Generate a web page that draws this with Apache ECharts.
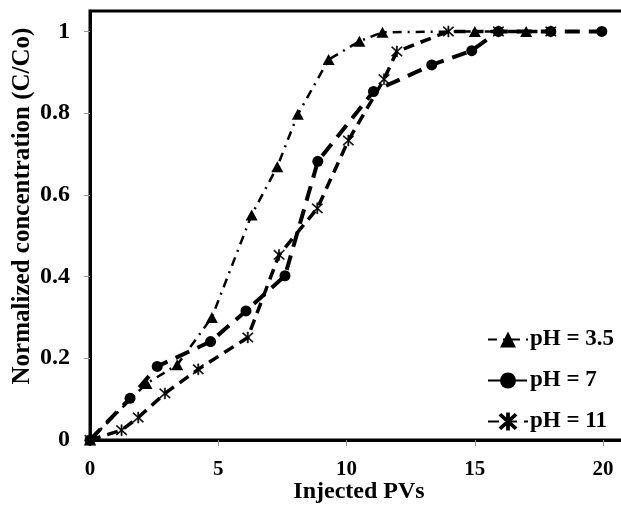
<!DOCTYPE html>
<html>
<head>
<meta charset="utf-8">
<script src="https://cdn.jsdelivr.net/npm/echarts@6/dist/echarts.min.js"></script>
<style>
html,body{margin:0;padding:0;background:#fff;}
#chart{width:621px;height:514px;}
</style>
</head>
<body>
<div id="chart"></div>
<script>
// ---- data ----
const seriesNames = ['pH = 3.5', 'pH = 7', 'pH = 11'];
const pH35_x = [0, 2.2, 3.4, 4.75, 6.3, 7.3, 8.1, 9.3, 10.5, 11.4, 15.0, 17.0];
const pH35_y = [0, 0.138, 0.184, 0.30, 0.551, 0.669, 0.797, 0.931, 0.976, 0.998, 1.0, 1.0];
const pH7_x = [0, 1.56, 2.62, 4.70, 6.08, 7.60, 8.88, 11.05, 13.32, 14.88, 15.92, 17.96, 19.95];
const pH7_y = [0, 0.102, 0.18, 0.241, 0.316, 0.402, 0.682, 0.853, 0.918, 0.953, 1.0, 1.0, 1.0];
const pH11_x = [0, 1.23, 1.88, 2.92, 4.22, 6.15, 7.37, 8.86, 10.07, 11.46, 11.96, 13.97, 15.92, 17.96];
const pH11_y = [0, 0.024, 0.055, 0.114, 0.173, 0.251, 0.453, 0.567, 0.733, 0.883, 0.951, 1.0, 1.0, 1.0];
const xTicks = [0, 5, 10, 15, 20];
const yTicks = [0, 0.2, 0.4, 0.6, 0.8, 1];
const xTitle = 'Injected PVs';
const yTitle = 'Normalized concentration (C/Co)';

function pairs(xs, ys) { return xs.map((x, i) => [x, ys[i]]); }

const FONT = '"Liberation Serif", "Times New Roman", serif';
const asterisk = 'path://M9,0 L11,0 L11,20 L9,20 Z M1,2.4 L2.4,1 L19,17.6 L17.6,19 Z M19,2.4 L17.6,1 L1,17.6 L2.4,19 Z';

const chart = echarts.init(document.getElementById('chart'), null, {renderer: 'canvas'});
chart.setOption({
  animation: false,
  backgroundColor: '#fff',
  grid: {left: 90, width: 538, top: 11, bottom: 74, show: true, borderColor: '#000', borderWidth: 3,
    containLabel: false, outerBoundsMode: 'none'},
  xAxis: {
    type: 'value', min: 0, max: 20.97,
    axisLine: {show: true, lineStyle: {color: '#000', width: 3}},
    axisTick: {show: true, length: 6, inside: false, lineStyle: {color: '#999', width: 1}, customValues: xTicks},
    axisLabel: {customValues: xTicks, color: '#000', fontFamily: FONT, fontWeight: 'bold', fontSize: 21, margin: 19},
    splitLine: {show: false}
  },
  yAxis: {
    type: 'value', min: 0, max: 1.05,
    axisLine: {show: true, lineStyle: {color: '#000', width: 3}},
    axisTick: {show: true, length: 6, inside: false, lineStyle: {color: '#999', width: 1}, customValues: yTicks},
    axisLabel: {customValues: yTicks, color: '#000', fontFamily: FONT, fontWeight: 'bold', fontSize: 24, margin: 20,
      formatter: v => String(Math.round(v * 10) / 10)},
    splitLine: {show: false}
  },
  legend: {
    orient: 'vertical', left: 482, top: 323, itemWidth: 40, itemHeight: 20, itemGap: 18,
    textStyle: {color: '#000', fontFamily: FONT, fontWeight: 'bold', fontSize: 23, padding: [0,0,0,-3]},
    data: seriesNames
  },
  graphic: [
    {type: 'text', x: 23, y: 206, rotation: Math.PI / 2,
      style: {text: yTitle, fill: '#000', font: 'bold 25px ' + FONT, align: 'center', verticalAlign: 'middle'}},
    {type: 'text', x: 359, y: 492,
      style: {text: xTitle, fill: '#000', font: 'bold 24px ' + FONT, align: 'center', verticalAlign: 'middle'}}
  ],
  series: [
    {name: seriesNames[0], type: 'line', data: pairs(pH35_x, pH35_y), clip: false,
      symbol: 'triangle', symbolSize: [12, 11],
      itemStyle: {color: '#000'},
      lineStyle: {color: '#000', width: 2.5, type: [9, 6, 2, 6]}},
    {name: seriesNames[1], type: 'line', data: pairs(pH7_x, pH7_y), clip: false,
      symbol: 'circle', symbolSize: 11,
      itemStyle: {color: '#000'},
      lineStyle: {color: '#000', width: 4, type: [15, 9]}},
    {name: seriesNames[2], type: 'line', data: pairs(pH11_x, pH11_y), clip: false,
      symbol: asterisk, symbolSize: 11,
      itemStyle: {color: '#000', borderColor: '#000', borderWidth: 0.5},
      lineStyle: {color: '#000', width: 3.5, type: [11, 7]}}
  ]
});
</script>
</body>
</html>
